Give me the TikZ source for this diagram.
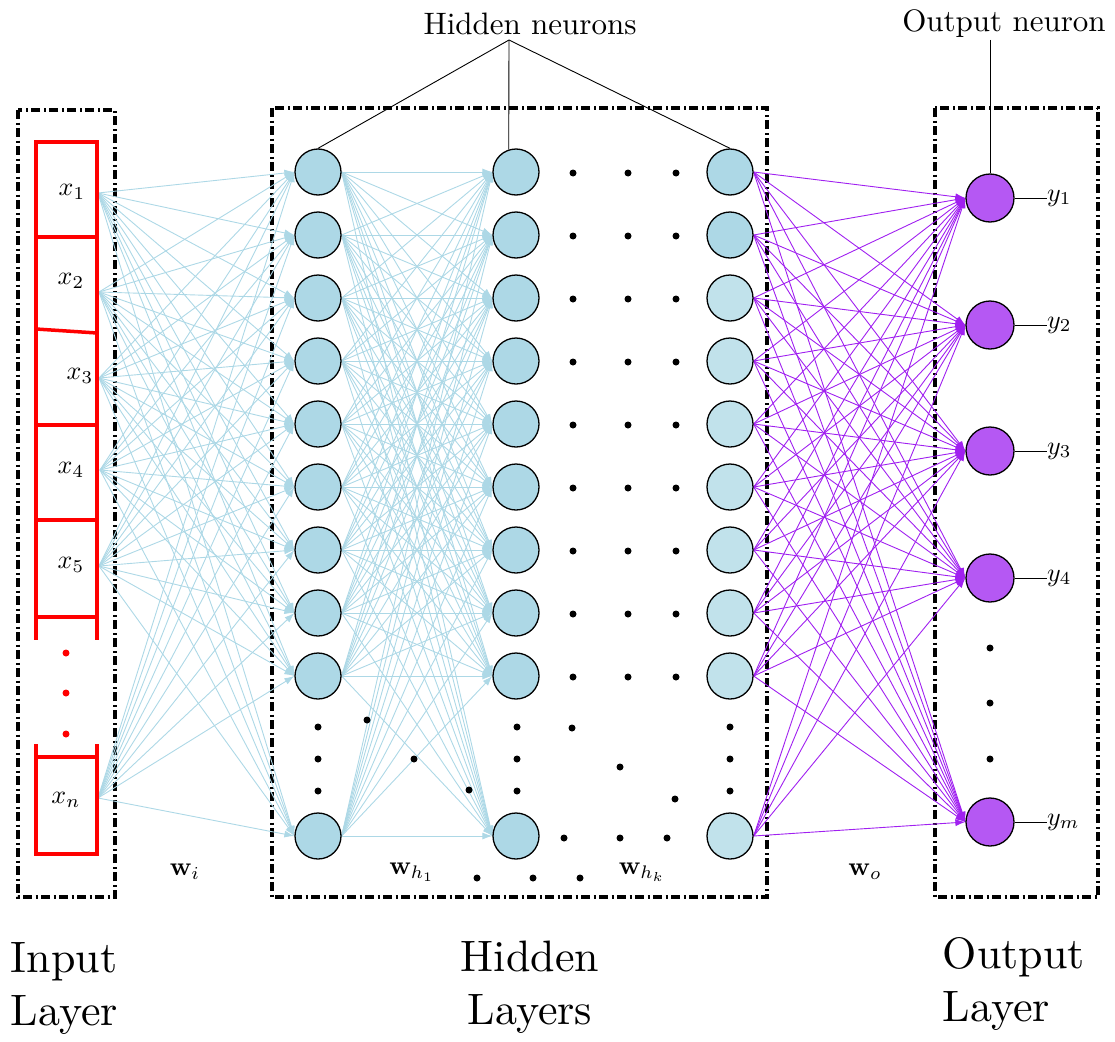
\documentclass[tikz,border=0pt]{standalone}
\usetikzlibrary{arrows.meta}
\definecolor{lblue}{RGB}{173,216,230}
\definecolor{lblue2}{RGB}{193,226,235}
\definecolor{xpurple}{RGB}{160,32,240}
\definecolor{opurple}{RGB}{181,88,243}
\pgfdeclarelayer{bg}
\pgfsetlayers{bg,main}
\tikzset{
 hid/.style={circle,draw=black,line width=1.3pt,fill=lblue,minimum size=46pt,inner sep=0pt},
 hidl/.style={hid,fill=lblue2},
 outn/.style={circle,draw=black,line width=1.3pt,fill=opurple,minimum size=48pt,inner sep=0pt},
 blueedge/.style={lblue,line width=0.9pt,-{Latex[length=10pt,width=7pt]}},
 purpedge/.style={xpurple,line width=0.9pt,-{Latex[length=10pt,width=7pt]}},
 layerbox/.style={line width=3.5pt,dash pattern=on 9pt off 3.5pt on 2pt off 3.5pt},
 redline/.style={red,line width=3.5pt},
 bdot/.style={circle,fill=black,inner sep=0pt,minimum size=7pt},
 rdot/.style={circle,fill=red,inner sep=0pt,minimum size=7pt},
 mlabel/.style={scale=2.6,inner sep=0pt},
 biglabel/.style={scale=4.4,inner sep=0pt},
 toplabel/.style={scale=3.1,inner sep=0pt},
 thinline/.style={black,line width=0.9pt},
}
\begin{document}
\begin{tikzpicture}[x=1pt,y=-1pt]
\useasboundingbox (0,0) rectangle (1115,1041);

% input structure (red)
\draw[redline] (36,142) -- (36,640);
\draw[redline] (97,142) -- (97,640);
\draw[redline] (34,142) -- (99,142);
\draw[redline] (36,237) -- (97,237);
\draw[redline] (36,329) -- (97,333);
\draw[redline] (36,425) -- (97,425);
\draw[redline] (36,520) -- (97,520);
\draw[redline] (36,617) -- (97,617);
\draw[redline] (36,744) -- (36,854) -- (97,854) -- (97,744);
\draw[redline] (36,757) -- (97,757);
\node[rdot] (r1) at (66,653) {};
\node[rdot] (r2) at (66,693) {};
\node[rdot] (r3) at (66,734) {};

% input labels and connection points
\node[mlabel] (x1) at (72,192) {$x_1$};
\node[mlabel] (x2) at (71,281) {$x_2$};
\node[mlabel] (x3) at (80,376) {$x_3$};
\node[mlabel] (x4) at (71,470) {$x_4$};
\node[mlabel] (x5) at (71,565) {$x_5$};
\node[mlabel] (xn) at (66,800) {$x_n$};
\coordinate (i1) at (98,193);
\coordinate (i2) at (99,292);
\coordinate (i3) at (99,378);
\coordinate (i4) at (100,470);
\coordinate (i5) at (99,566);
\coordinate (i6) at (98,798);

% neurons
\foreach \i/\y in {1/172,2/235,3/298,4/361,5/424,6/487,7/550,8/613,9/676,10/836} {
  \node[hid] (h1-\i) at (318,\y) {};
  \node[hid] (h2-\i) at (516,\y) {};
}
\node[hid] (h3-1) at (730,172) {};
\node[hid] (h3-2) at (730,235) {};
\foreach \i/\y in {3/298,4/361,5/424,6/487,7/550,8/613,9/676,10/836} {
  \node[hidl] (h3-\i) at (730,\y) {};
}
\foreach \i/\y in {1/198,2/325,3/451,4/578,5/822} {
  \node[outn] (o\i) at (990,\y) {};
}

\begin{pgfonlayer}{bg}
\draw[layerbox] (18,110) rectangle (115,897);
\draw[layerbox] (272,108) rectangle (767,897);
\draw[layerbox] (935,108) rectangle (1098,897);
\foreach \a in {1,...,6} \foreach \b in {1,...,10} \draw[blueedge] (i\a) -- (h1-\b.west);
\foreach \a in {1,...,10} \foreach \b in {1,...,10} \draw[blueedge] (h1-\a.east) -- (h2-\b.west);
\foreach \a in {1,...,10} \foreach \b in {1,...,5} \draw[purpedge] (h3-\a.east) -- (o\b.west);
\end{pgfonlayer}

% dots between hidden columns 2 and 3
\foreach \y [count=\k] in {173,236,299,362,425,488,551,614,677} {
  \node[bdot] (da\k) at (573,\y) {};
  \node[bdot] (db\k) at (628,\y) {};
  \node[bdot] (dc\k) at (676,\y) {};
}
\node[bdot] (ea) at (564,838) {};
\node[bdot] (eb) at (620,838) {};
\node[bdot] (ec) at (667,838) {};
% vertical dots
\foreach \y [count=\k] in {727,759,791} {
  \node[bdot] (va\k) at (318,\y) {};
  \node[bdot] (vb\k) at (517,\y) {};
  \node[bdot] (vc\k) at (730,\y) {};
}
% diagonal dots
\node[bdot] (g1) at (367,720) {};
\node[bdot] (g2) at (414,759) {};
\node[bdot] (g3) at (469,790) {};
\node[bdot] (g4) at (572,728) {};
\node[bdot] (g5) at (620,767) {};
\node[bdot] (g6) at (675,799) {};
% bottom dots
\node[bdot] (b1) at (477,878) {};
\node[bdot] (b2) at (533,878) {};
\node[bdot] (b3) at (580,878) {};
% output dots
\node[bdot] (od1) at (990,648) {};
\node[bdot] (od2) at (990,703) {};
\node[bdot] (od3) at (990,759) {};

% output labels
\foreach \i/\t in {1/y_1,2/y_2,3/y_3,4/y_4,5/y_m} {
  \node[mlabel,anchor=west] (y\i) at ([xshift=32pt]o\i.east) {$\t$};
  \draw[thinline] (o\i.east) -- (y\i.west);
}

% weight labels
\node[mlabel] (wi) at (185,872) {$\mathbf{w}_i$};
\node[mlabel] (wh1) at (412,872) {$\mathbf{w}_{h_1}$};
\node[mlabel] (whk) at (642,872) {$\mathbf{w}_{h_k}$};
\node[mlabel] (wo) at (865,872) {$\mathbf{w}_o$};

% top labels
\node[toplabel] (hn) at (530,24) {Hidden neurons};
\coordinate (hnp) at (509,40);
\draw[thinline] (hnp) -- (h1-1.north);
\draw[thinline] (hnp) -- (h2-1.108);
\draw[thinline] (hnp) -- (h3-1.north);
\node[toplabel] (on) at (1004,24) {Output neuron};
\coordinate (onp) at (990,40);
\draw[thinline] (onp) -- (o1.north);

% layer labels
\node[biglabel,anchor=north west,align=left] (inl) at (10,942) {Input\\Layer};
\node[biglabel,anchor=north,align=center] (hdl) at (530,940) {Hidden\\Layers};
\node[biglabel,anchor=north west,align=left] (otl) at (942,937) {Output\\Layer};
\end{tikzpicture}
\end{document}
